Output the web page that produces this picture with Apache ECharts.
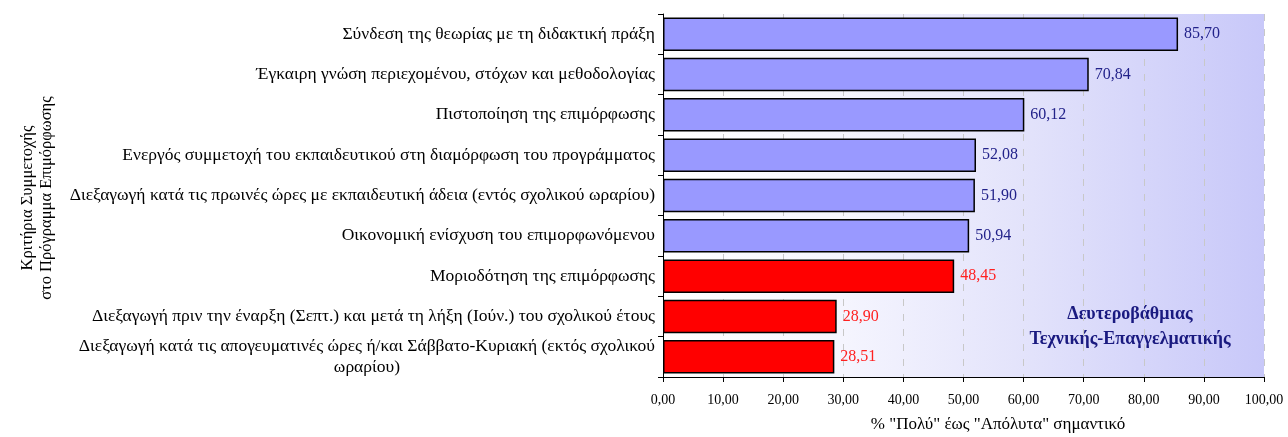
<!DOCTYPE html>
<html>
<head>
<meta charset="utf-8">
<script src="https://cdn.jsdelivr.net/npm/echarts@6/dist/echarts.min.js"></script>
<style>
  html, body { margin: 0; padding: 0; background: #ffffff; }
  #chart { width: 1288px; height: 437px; }
</style>
</head>
<body>
<div id="chart"></div>
<script>
// Criteria, top to bottom
const categories = [
  'Σύνδεση της θεωρίας με τη διδακτική πράξη',
  'Έγκαιρη γνώση περιεχομένου, στόχων και μεθοδολογίας',
  'Πιστοποίηση της επιμόρφωσης',
  'Ενεργός συμμετοχή του εκπαιδευτικού στη διαμόρφωση του προγράμματος',
  'Διεξαγωγή κατά τις πρωινές ώρες με εκπαιδευτική άδεια (εντός σχολικού ωραρίου)',
  'Οικονομική ενίσχυση του επιμορφωνόμενου',
  'Μοριοδότηση της επιμόρφωσης',
  'Διεξαγωγή πριν την έναρξη (Σεπτ.) και μετά τη λήξη (Ιούν.) του σχολικού έτους',
  'Διεξαγωγή κατά τις απογευματινές ώρες ή/και Σάββατο-Κυριακή (εκτός σχολικού\nωραρίου)'
];
// % "Πολύ" έως "Απόλυτα" σημαντικό
const values = [85.70, 70.84, 60.12, 52.08, 51.90, 50.94, 48.45, 28.90, 28.51];
// Highlighted (red) criteria
const highlighted = [false, false, false, false, false, false, true, true, true];

const xTitle = '% "Πολύ" έως "Απόλυτα" σημαντικό';
const yTitle = 'Κριτήρια Συμμετοχής\nστο Πρόγραμμα Επιμόρφωσης';
const boxText = 'Δευτεροβάθμιας\nΤεχνικής-Επαγγελματικής';

const FONT = '"Liberation Serif", "DejaVu Serif", serif';
const fmt = v => v.toFixed(2).replace('.', ',');

const chart = echarts.init(document.getElementById('chart'), null, { renderer: 'canvas' });

chart.setOption({
  animation: false,
  grid: {
    left: 663, right: 24, top: 14, bottom: 60,
    show: true,
    borderWidth: 0,
    backgroundColor: {
      type: 'linear', x: 0, y: 0, x2: 1, y2: 0,
      colorStops: [
        { offset: 0, color: '#ffffff' },
        { offset: 0.3, color: '#f5f5fe' },
        { offset: 0.6, color: '#e3e3fb' },
        { offset: 1, color: '#c8c8f9' }
      ]
    }
  },
  xAxis: {
    type: 'value',
    min: 0, max: 100, interval: 10,
    axisLine: { show: true, lineStyle: { color: '#000', width: 1 } },
    axisTick: { show: true, length: 5, lineStyle: { color: '#000' } },
    axisLabel: { fontFamily: FONT, fontSize: 14, color: '#000', margin: 16, formatter: v => fmt(v) },
    splitLine: { show: true, lineStyle: { color: '#c8c8c8', type: [7, 8], width: 1 } }
  },
  yAxis: {
    type: 'category',
    data: categories,
    inverse: true,
    axisLine: { show: true, lineStyle: { color: '#000', width: 1 } },
    axisTick: { show: true, length: 5, lineStyle: { color: '#000' } },
    axisLabel: {
      interval: 0,
      margin: 8,
      fontFamily: FONT, fontSize: 17.5, color: '#000',
      formatter: v => v.split('\n').map(s => '{c|' + s + '}').join('\n'),
      rich: { c: { align: 'center', fontFamily: FONT, fontSize: 17.5, color: '#000', lineHeight: 21 } }
    }
  },
  series: [{
    type: 'bar',
    barCategoryGap: '17%',
    data: values.map((v, i) => ({
      value: v,
      itemStyle: { color: highlighted[i] ? '#ff0000' : '#9999ff' },
      label: { color: highlighted[i] ? '#ff2020' : '#22228a' }
    })),
    itemStyle: { borderColor: '#000', borderWidth: 1.5 },
    label: {
      show: true,
      position: 'right',
      distance: 6,
      fontFamily: FONT,
      fontSize: 16,
      formatter: p => fmt(p.value)
    }
  }],
  graphic: [
    {
      type: 'text',
      x: 1130, y: 327,
      style: {
        text: boxText,
        align: 'center', verticalAlign: 'middle',
        fontFamily: FONT, fontSize: 18, fontWeight: 'bold',
        fill: '#1a1a80', lineHeight: 25
      }
    },
    {
      type: 'text',
      rotation: Math.PI / 2,
      x: 37, y: 198,
      style: {
        text: yTitle,
        align: 'center', verticalAlign: 'middle',
        fontFamily: FONT, fontSize: 16.5, fill: '#000', lineHeight: 19
      }
    },
    {
      type: 'text',
      x: 998, y: 425,
      style: {
        text: xTitle,
        align: 'center', verticalAlign: 'middle',
        fontFamily: FONT, fontSize: 17, fill: '#000'
      }
    }
  ]
});
</script>
</body>
</html>
